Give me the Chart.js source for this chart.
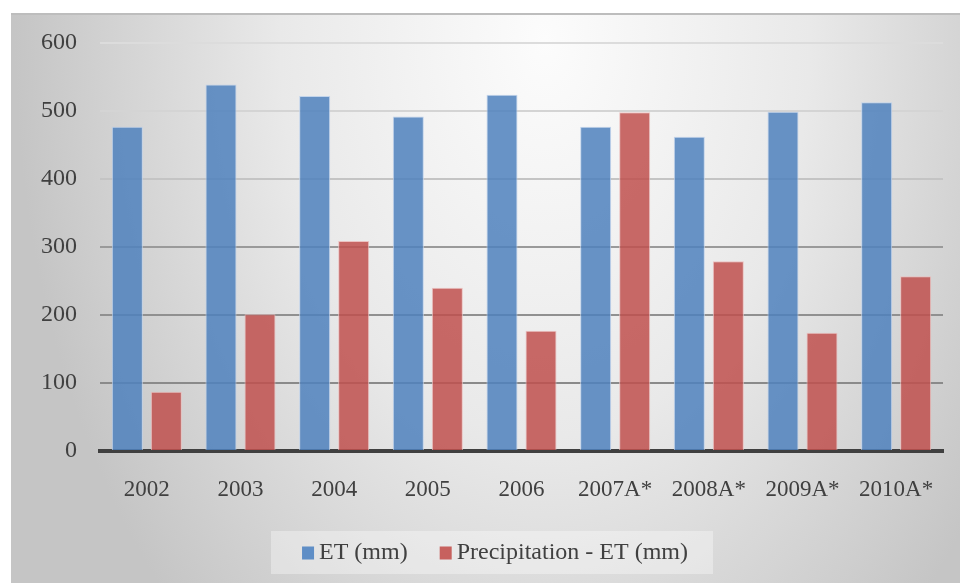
<!DOCTYPE html>
<html>
<head>
<meta charset="utf-8">
<script src="https://cdn.jsdelivr.net/npm/chart.js@4/dist/chart.umd.min.js"></script>
<style>
  html, body { margin: 0; padding: 0; background: #ffffff; }
  #wrap { width: 960px; height: 583px; position: relative; }
  canvas { display: block; }
</style>
</head>
<body>
<div id="wrap"><canvas id="chart" width="960" height="583"></canvas></div>
<script>
// Annual evapotranspiration and water balance
const years = ['2002', '2003', '2004', '2005', '2006', '2007A*', '2008A*', '2009A*', '2010A*'];
const etValues = [477, 539, 522, 492, 524, 477, 462, 499, 513];
const precipMinusEtValues = [87, 201, 309, 240, 177, 498, 279, 174, 257];
const yTickValues = [0, 100, 200, 300, 400, 500, 600];
const seriesNames = ['ET (mm)', 'Precipitation - ET (mm)'];

const FONT = '"Liberation Serif", "Times New Roman", serif';
const TEXT = '#404040';

// Gridline shade per tick value (lighter towards the top of the plot)
const gridShade = { 600: '#dcdcdc', 500: '#d4d4d4', 400: '#c4c4c4', 300: '#9a9a9a', 200: '#909090', 100: '#8a8a8a', 0: 'rgba(0,0,0,0)' };

// Shaded panel behind the whole chart
const panelBackground = {
  id: 'panelBackground',
  beforeDraw(chart) {
    const ctx = chart.ctx;
    const W = chart.width, H = chart.height;
    const x0 = 11, y0 = 14;
    ctx.save();
    ctx.fillStyle = '#ffffff';
    ctx.fillRect(0, 0, W, H);
    const cx = 545, cy = 40, rx = 530, sy = 1.5;
    ctx.setTransform(1, 0, 0, sy, cx, cy);
    const g = ctx.createRadialGradient(0, 0, 0, 0, 0, rx);
    g.addColorStop(0, '#fcfcfc');
    g.addColorStop(0.5, '#e9e9e9');
    g.addColorStop(1, '#c5c5c5');
    ctx.fillStyle = g;
    ctx.fillRect(x0 - cx, (y0 - cy) / sy, W - x0, (H - y0) / sy);
    ctx.setTransform(1, 0, 0, 1, 0, 0);
    ctx.strokeStyle = '#bdbdbd';
    ctx.lineWidth = 2;
    ctx.beginPath();
    ctx.moveTo(x0, y0);
    ctx.lineTo(W, y0);
    ctx.stroke();
    ctx.restore();
  }
};

// Legend strip below the axis, built from the dataset labels and colours
const boxedLegend = {
  id: 'boxedLegend',
  afterDraw(chart) {
    const ctx = chart.ctx;
    ctx.save();
    ctx.fillStyle = 'rgba(255,255,255,0.35)';
    ctx.fillRect(271, 531, 442, 43);
    ctx.font = '24px ' + FONT;
    ctx.textBaseline = 'middle';
    ctx.textAlign = 'left';
    const box = 12, gapText = 5, gapItem = 32;
    const items = chart.data.datasets.map(ds => ({ text: ds.label, color: ds.legendColor, w: ctx.measureText(ds.label).width }));
    let total = 0;
    items.forEach((it, i) => { total += box + gapText + it.w + (i ? gapItem : 0); });
    let x = 495 - total / 2;
    const cy = 553;
    items.forEach((it, i) => {
      if (i) x += gapItem;
      ctx.fillStyle = it.color;
      ctx.fillRect(x, cy - 6.5, box, 13);
      ctx.fillStyle = TEXT;
      ctx.fillText(it.text, x + box + gapText, cy);
      x += box + gapText + it.w;
    });
    ctx.restore();
  }
};

new Chart(document.getElementById('chart'), {
  type: 'bar',
  data: {
    labels: years,
    datasets: [
      {
        label: seriesNames[0],
        data: etValues,
        backgroundColor: 'rgba(79,129,189,0.85)',
        borderColor: 'rgba(190,210,235,0.9)',
        borderWidth: 1,
        legendColor: '#5f8ec6'
      },
      {
        label: seriesNames[1],
        data: precipMinusEtValues,
        backgroundColor: 'rgba(192,80,77,0.85)',
        borderColor: 'rgba(235,190,189,0.9)',
        borderWidth: 1,
        legendColor: '#c7615e'
      }
    ]
  },
  options: {
    responsive: false,
    animation: false,
    events: [],
    layout: { padding: { left: 30, right: 17, top: 43, bottom: 0 } },
    datasets: { bar: { categoryPercentage: 0.833, barPercentage: 0.795 } },
    plugins: {
      legend: { display: false },
      tooltip: { enabled: false },
      title: { display: false }
    },
    scales: {
      x: {
        z: 1,
        grid: { display: false, drawTicks: false },
        border: { display: true, color: '#404040', width: 4 },
        ticks: { color: TEXT, font: { family: FONT, size: 23 }, padding: 25, maxRotation: 0, autoSkip: false },
        afterFit(scale) { scale.height = 132; }
      },
      y: {
        min: 0,
        max: 600,
        afterBuildTicks(scale) { scale.ticks = yTickValues.map(v => ({ value: v })); },
        grid: {
          drawTicks: false,
          lineWidth: 2,
          color: ctx => gridShade[ctx.tick ? ctx.tick.value : 0] || '#c0c0c0'
        },
        border: { display: false },
        ticks: { color: TEXT, font: { family: FONT, size: 24 }, padding: 23 },
        afterFit(scale) { scale.width = 70; }
      }
    }
  },
  plugins: [panelBackground, boxedLegend]
});
</script>
</body>
</html>
